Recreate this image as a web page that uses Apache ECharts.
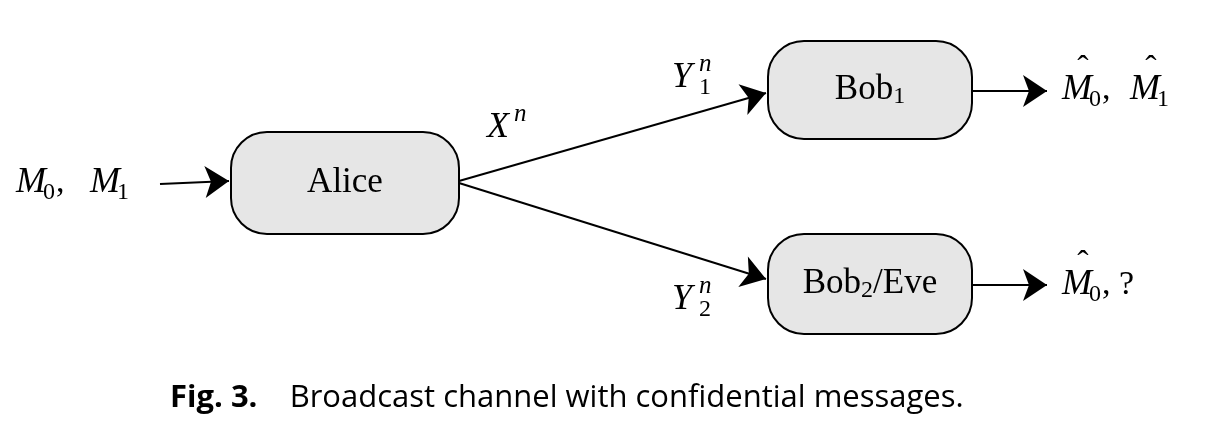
<!doctype html>
<html lang="en">
    <head>
        <meta charset="UTF-8" />
        <title>Broadcast channel with confidential messages</title>
        <script src="https://cdn.jsdelivr.net/npm/echarts@6.0.0/dist/echarts.min.js"></script>
    </head>
    <body style="margin: 0">
        <div id="main" style="width: 1212px; height: 436px"></div>

        <script>
            // Boxes
            const boxNames = ["Alice", "Bob", "Bob"];
            const boxSubs = ["", "1", "2"];
            const boxTails = ["", "", "/Eve"];
            const boxCenters = [[345, 183], [870, 90], [870, 284]];
            const boxSizes = [[228, 102], [204, 98], [204, 100]];

            // Arrows: from -> to
            const arrowFrom = [[160, 184], [459, 181], [459, 183], [972, 91], [972, 285]];
            const arrowTo = [[229, 181], [766, 93], [766, 279], [1047, 91], [1047, 285]];

            // Math labels
            const labelBase = ["M", "M", "X", "Y", "Y", "M", "M", "M"];
            const labelSub = ["0", "1", "", "1", "2", "0", "1", "0"];
            const labelSup = ["", "", "n", "n", "n", "", "", ""];
            const labelHat = [false, false, false, false, false, true, true, true];
            const labelTail = [",", "", "", "", "", ",", "", ", ?"];
            const labelPos = [[16, 183], [90, 183], [487, 128], [672, 78], [672, 300], [1062, 90], [1130, 90], [1062, 285]];

            const caption = "Broadcast channel with confidential messages.";
            const serif = "Liberation Serif";

            const myChart = echarts.init(document.getElementById("main"));

            const boxData = boxCenters.map((c, i) => [c[0], c[1], boxSizes[i][0], boxSizes[i][1], i]);
            const labelData = labelPos.map((p, i) => [p[0], p[1], i]);

            const options = {
                animation: false,
                grid: { left: 0, right: 0, top: 0, bottom: 0 },
                xAxis: { type: "value", min: 0, max: 1212, show: false },
                yAxis: { type: "value", min: 0, max: 436, inverse: true, show: false },
                title: {
                    text: "{b|Fig. 3.}    " + caption,
                    left: 165,
                    top: 378,
                    textStyle: {
                        fontFamily: "Open Sans",
                        fontSize: 31,
                        fontWeight: "normal",
                        color: "#000",
                        rich: { b: { fontFamily: "Open Sans", fontSize: 31, fontWeight: "bold", color: "#000" } },
                    },
                },
                series: [
                    {
                        type: "lines",
                        coordinateSystem: "cartesian2d",
                        symbol: ["none", "arrow"],
                        symbolSize: [11, 24],
                        lineStyle: { color: "#000", width: 2, opacity: 1 },
                        data: arrowFrom.map((f, i) => ({ coords: [f, arrowTo[i]] })),
                        z: 1,
                    },
                    {
                        type: "custom",
                        data: boxData,
                        z: 2,
                        renderItem: (params, api) => {
                            const c = api.coord([api.value(0), api.value(1)]);
                            const w = api.value(2), h = api.value(3), i = api.value(4);
                            return {
                                type: "group",
                                children: [
                                    {
                                        type: "rect",
                                        shape: { x: c[0] - w / 2, y: c[1] - h / 2, width: w, height: h, r: 36 },
                                        style: { fill: "#e6e6e6", stroke: "#000", lineWidth: 2 },
                                    },
                                    {
                                        type: "text",
                                        x: c[0],
                                        y: c[1],
                                        style: {
                                            text: boxNames[i] + (boxSubs[i] ? "{s|" + boxSubs[i] + "}" : "") + boxTails[i],
                                            rich: { s: { fontFamily: serif, fontSize: 24, padding: [14, 0, 0, 0], fill: "#000" } },
                                            font: "35px " + serif,
                                            fill: "#000",
                                            align: "center",
                                            verticalAlign: "middle",
                                        },
                                    },
                                ],
                            };
                        },
                    },
                    {
                        type: "custom",
                        data: labelData,
                        z: 3,
                        renderItem: (params, api) => {
                            const c = api.coord([api.value(0), api.value(1)]);
                            const i = api.value(2);
                            const kids = [
                                {
                                    type: "text",
                                    x: c[0],
                                    y: c[1],
                                    style: { text: labelBase[i], font: "italic 36px " + serif, fill: "#000", verticalAlign: "middle" },
                                },
                            ];
                            let end = c[0] + 32;
                            if (labelHat[i]) {
                                kids.push({
                                    type: "text",
                                    x: c[0] + 21,
                                    y: c[1] - 20,
                                    style: { text: "ˆ", font: "34px " + serif, fill: "#000", align: "center", verticalAlign: "middle" },
                                });
                            }
                            if (labelSub[i]) {
                                kids.push({
                                    type: "text",
                                    x: c[0] + 27,
                                    y: c[1] + 10,
                                    style: { text: labelSub[i], font: "24px " + serif, fill: "#000", verticalAlign: "middle" },
                                });
                                end = c[0] + 40;
                            }
                            if (labelSup[i]) {
                                kids.push({
                                    type: "text",
                                    x: c[0] + 27,
                                    y: c[1] - 14,
                                    style: { text: labelSup[i], font: "italic 25px " + serif, fill: "#000", verticalAlign: "middle" },
                                });
                            }
                            if (labelTail[i]) {
                                kids.push({
                                    type: "text",
                                    x: end,
                                    y: c[1],
                                    style: { text: labelTail[i], font: "34px " + serif, fill: "#000", verticalAlign: "middle" },
                                });
                            }
                            return { type: "group", children: kids };
                        },
                    },
                ],
            };

            myChart.setOption(options);
        </script>
    </body>
</html>
